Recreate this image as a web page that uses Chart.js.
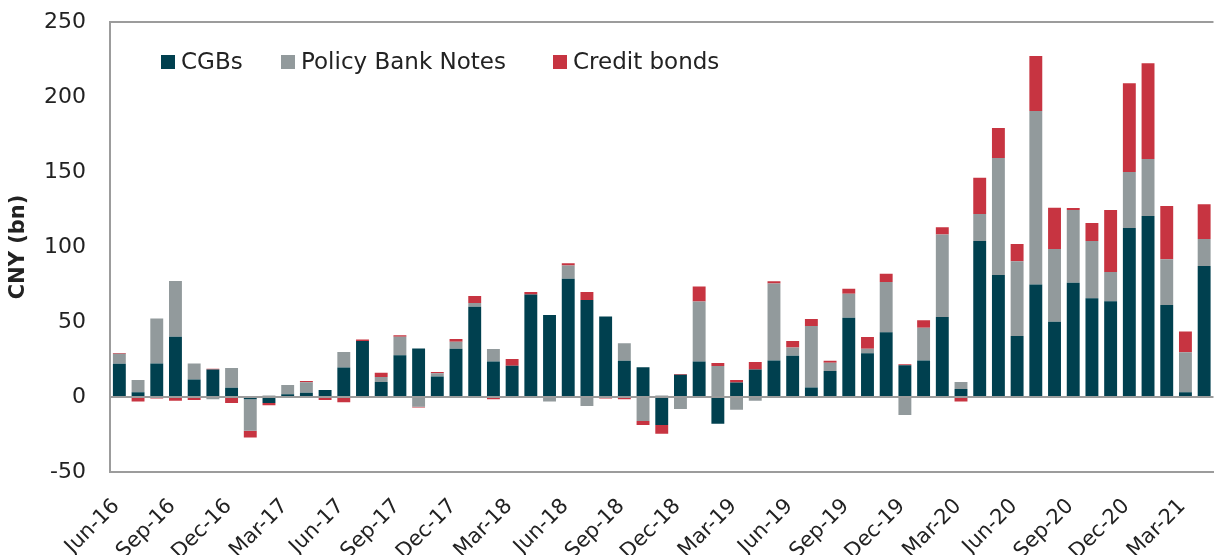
<!DOCTYPE html>
<html>
<head>
<meta charset="utf-8">
<script src="https://cdn.jsdelivr.net/npm/chart.js@4.4.1/dist/chart.umd.min.js"></script>
<style>
  html, body { margin: 0; padding: 0; background: #fff; overflow: hidden; }
  #wrap { width: 1236px; height: 555px; position: relative; }
</style>
</head>
<body>
<div id="wrap"><canvas id="graphique"></canvas></div>
<script>
// mois (Jun-16 -> Apr-21)
const mois = [
  "Jun-16", "Jul-16", "Aug-16", "Sep-16", "Oct-16", "Nov-16", "Dec-16",
  "Jan-17", "Feb-17", "Mar-17", "Apr-17", "May-17", "Jun-17", "Jul-17", "Aug-17", "Sep-17", "Oct-17", "Nov-17", "Dec-17",
  "Jan-18", "Feb-18", "Mar-18", "Apr-18", "May-18", "Jun-18", "Jul-18", "Aug-18", "Sep-18", "Oct-18", "Nov-18", "Dec-18",
  "Jan-19", "Feb-19", "Mar-19", "Apr-19", "May-19", "Jun-19", "Jul-19", "Aug-19", "Sep-19", "Oct-19", "Nov-19", "Dec-19",
  "Jan-20", "Feb-20", "Mar-20", "Apr-20", "May-20", "Jun-20", "Jul-20", "Aug-20", "Sep-20", "Oct-20", "Nov-20", "Dec-20",
  "Jan-21", "Feb-21", "Mar-21", "Apr-21"
];

const cgbs = [
  22.2, 3.1, 22.4, 40.2, 11.6, 18.4, 6.2,
  -1.5, -4, 1.8, 2.9, 4.7, 19.6, 37.3, 10, 27.8, 32.4, 13.6, 32.2,
  60.2, 23.6, 20.9, 68.4, 54.7, 78.9, 64.7, 53.6, 24.2, 19.8, -18.7, 14.9,
  23.6, -17.8, 9.6, 18.4, 24.4, 27.5, 6.4, 17.3, 52.9, 29.1, 43.1, 21.1,
  24.4, 53.3, 5.3, 104, 81.3, 40.6, 75, 50.2, 76.2, 65.8, 63.8, 112.7,
  120.7, 61.3, 3.1, 87.3
];

const policyBankNotes = [
  6.7, 8.2, 30, 37.1, 10.8, -1.5, 13.1,
  -21, 1, 6.2, 6.9, 0, 10.4, 0, 3.3, 12.4, -6.5, 2.2, 4.7,
  2.5, 8.4, 0, 0, -3, 8.7, -6, 0, 11.6, -16, 1, -8,
  40, 20.7, -8.5, -2.5, 51.2, 5.5, 40.9, 5.6, 16, 3.1, 33.6, -12,
  21.8, 55.1, 4.7, 18, 78, 49.9, 115.7, 48.5, 48.5, 38.2, 19.5, 37.3,
  38, 30.5, 26.7, 18
];

const creditBonds = [
  0.4, -3, -1, -2.5, -2, 0.5, -4,
  -4.5, -1.5, 0, 0.9, -2, -3.5, 1.1, 2.9, 0.9, -0.5, 0.9, 1.8,
  4.6, -1.5, 4.4, 1.6, 0, 1.5, 5.3, -1, -1.5, -2.7, -5.8, 0.5,
  10, 2, 1.7, 4.9, 1.5, 4.3, 4.7, 1.3, 3.3, 7.8, 5.5, 0.7,
  4.9, 4.7, -3, 24.2, 20, 11.5, 36.6, 27.5, 1.3, 12, 41.4, 59.1,
  63.8, 35.5, 13.8, 23.2
];

const yMin = -50;
const yMax = 250;
const yPas = 50;

const couleurs = ["#00404f", "#929a9c", "#c73441"];
const police = "'DejaVu Sans', sans-serif";
const gris = "#9c9c9c";

// legende dessinee dans la zone du graphique (decalage de chaque entree depuis le bord gauche)
const decalagesLegende = [51, 171, 443];
const legendeInterne = {
  id: "legendeInterne",
  afterDraw(chart) {
    const ctx = chart.ctx;
    const zone = chart.chartArea;
    ctx.save();
    ctx.font = "23px " + police;
    ctx.textBaseline = "middle";
    const y = zone.top + 40;
    chart.data.datasets.forEach((ds, i) => {
      const x = zone.left + decalagesLegende[i];
      ctx.fillStyle = ds.backgroundColor;
      ctx.fillRect(x, y - 7, 14, 14);
      ctx.fillStyle = "#222";
      ctx.fillText(ds.label, x + 20, y + 1);
    });
    ctx.restore();
  }
};

const configuration = {
  type: "bar",
  data: {
    labels: mois,
    datasets: [
      { label: "CGBs", data: cgbs, backgroundColor: couleurs[0] },
      { label: "Policy Bank Notes", data: policyBankNotes, backgroundColor: couleurs[1] },
      { label: "Credit bonds", data: creditBonds, backgroundColor: couleurs[2] }
    ]
  },
  options: {
    responsive: true,
    maintainAspectRatio: false,
    animation: false,
    layout: { padding: { top: 22, right: 4, left: 0, bottom: 0 } },
    datasets: {
      bar: { categoryPercentage: 1, barPercentage: 0.69, borderWidth: 0 }
    },
    plugins: {
      legend: { display: false },
      tooltip: { enabled: false }
    },
    scales: {
      x: {
        stacked: true,
        grid: { display: false },
        border: { display: true, color: gris, width: 2 },
        ticks: {
          autoSkip: false,
          minRotation: 45,
          maxRotation: 45,
          color: "#222",
          font: { family: police, size: 21 },
          padding: 14,
          labelOffset: -3,
          callback: function (val, index) {
            return index % 3 === 0 ? this.getLabelForValue(val) : "";
          }
        },
        afterFit: (scale) => { scale.height = 83; }
      },
      y: {
        stacked: true,
        min: yMin,
        max: yMax,
        ticks: {
          stepSize: yPas,
          color: "#222",
          font: { family: police, size: 22 },
          padding: 24
        },
        grid: {
          drawTicks: false,
          lineWidth: 2,
          color: (c) => (c.tick && [yMax, 0, yMin].includes(c.tick.value) ? gris : "rgba(0,0,0,0)")
        },
        border: { display: true, color: gris, width: 2 },
        title: {
          display: true,
          text: "CNY (bn)",
          color: "#222",
          font: { family: police, size: 21, weight: "bold" },
          padding: { top: 6, bottom: 0 }
        },
        afterFit: (scale) => {
          scale.width = 110;
          scale.paddingTop = 10;
          scale.paddingBottom = 10;
        }
      }
    }
  },
  plugins: [legendeInterne]
};

const graphique = document.getElementById("graphique");
const chart = new Chart(graphique, configuration);
</script>
</body>
</html>
